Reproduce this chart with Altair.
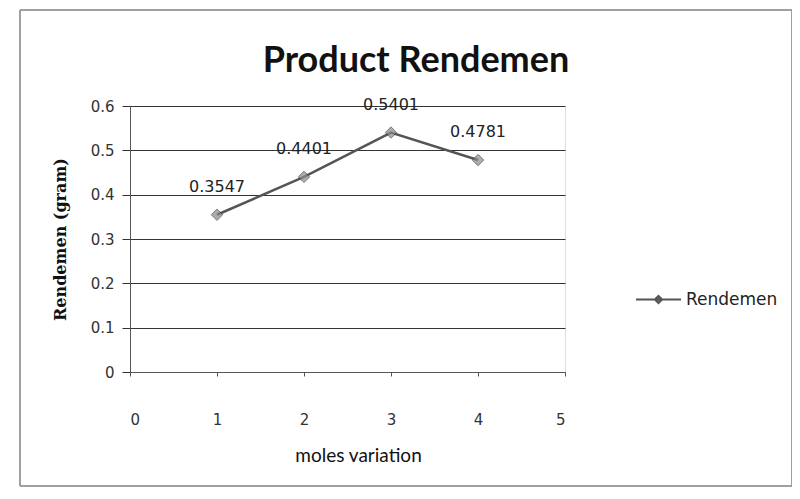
import altair as alt
import pandas as pd

moles = [1, 2, 3, 4]
rendemen = [0.3547, 0.4401, 0.5401, 0.4781]
labels = ["0.3547", "0.4401", "0.5401", "0.4781"]
series = ["Rendemen"] * 4
title_text = ["Product Rendemen"]

df = pd.DataFrame({"moles": moles, "rendemen": rendemen, "label": labels, "series": series})
tdf = pd.DataFrame({"t": title_text})

W, H = 435, 266

xenc = alt.X("moles:Q", scale=alt.Scale(domain=[0, 5], nice=False),
             axis=alt.Axis(values=[0, 1, 2, 3, 4, 5], format="d", title="moles variation", grid=False,
                           labelFont="DejaVu Sans", labelFontSize=15, labelColor="#333",
                           labelPadding=36, tickSize=4, tickColor="#555", domainColor="#555",
                           titleFont="Lato", titleFontSize=19, titleFontWeight="normal",
                           titleColor="#111", titleX=228, titleY=83, titleAlign="center",
                           titleBaseline="middle"))
yenc = alt.Y("rendemen:Q", scale=alt.Scale(domain=[0, 0.6], nice=False),
             axis=alt.Axis(values=[0, 0.1, 0.2, 0.3, 0.4, 0.5, 0.6], format="~g",
                           title="Rendemen (gram)", grid=True, gridColor="#333", gridWidth=1,
                           labelFont="DejaVu Sans", labelFontSize=15, labelColor="#333",
                           labelPadding=8, tickSize=8, tickColor="#333", domainColor="#555",
                           titleFont="DejaVu Serif", titleFontSize=16, titleFontWeight="bold",
                           titleColor="#111", titleX=-70, titleY=133, titleAngle=270,
                           titleAlign="center", titleBaseline="middle"))

legend_sym = "M-1,0H1M-0.16,0L0,-0.16L0.16,0L0,0.16Z"

line = alt.Chart(df).mark_line(strokeWidth=2.5).encode(
    x=xenc, y=yenc,
    color=alt.Color("series:N", scale=alt.Scale(range=["#555555"]),
                    legend=alt.Legend(title=None, orient="none", legendX=505, legendY=170,
                                      symbolType=legend_sym, symbolSize=2025,
                                      symbolStrokeWidth=2, symbolFillColor="#888",
                                      symbolStrokeColor="#555",
                                      labelFont="DejaVu Sans", labelFontSize=17,
                                      labelColor="#222", labelOffset=4)))

pts = alt.Chart(df).mark_point(shape="diamond", size=130, filled=True, color="#8a8a8a",
                               stroke="#444", strokeWidth=1).encode(x="moles:Q", y="rendemen:Q")

txt = alt.Chart(df).mark_text(dy=-28, font="DejaVu Sans", fontSize=16, color="#222").encode(
    x="moles:Q", y="rendemen:Q", text="label:N")

title = alt.Chart(tdf).mark_text(font="Lato", fontSize=36, fontWeight="bold", color="#111",
                                 baseline="middle", align="center").encode(
    x=alt.value(286), y=alt.value(-45), text="t:N")

border = alt.Chart(df).mark_rect(fill=None, stroke="#999", strokeWidth=1).encode(
    x=alt.value(-110), x2=alt.value(662), y=alt.value(-96), y2=alt.value(380))

chart = alt.layer(border, line, pts, txt, title).properties(
    width=W, height=H,
    autosize=alt.AutoSizeParams(type="none"),
    padding={"left": 122, "top": 98, "right": 227, "bottom": 119},
).configure_view(stroke=None).configure(background="white")

chart.save("out.html", embed_options={"renderer": "svg", "actions": False})
